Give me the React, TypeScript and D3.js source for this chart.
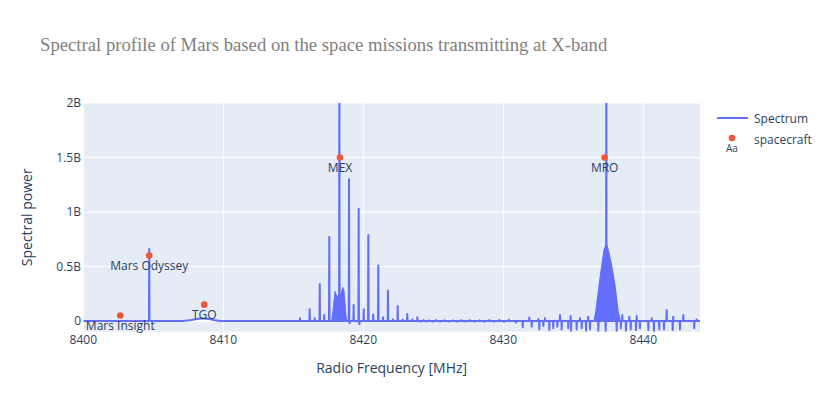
import * as d3 from 'd3';
import React, { useEffect, useRef } from 'react';

// axis ticks
const xTicks = [8400, 8410, 8420, 8430, 8440];
const yTicks = [0, 0.5, 1, 1.5, 2]; // billions
const yTickLabels = ['0', '0.5B', '1B', '1.5B', '2B'];

// spacecraft markers (power in billions)
const craftNames = ['Mars Insight', 'Mars Odyssey', 'TGO', 'MEX', 'MRO'];
const craftFreq = [8402.64, 8404.71, 8408.64, 8418.34, 8437.24];
const craftPower = [0.05, 0.6, 0.15, 1.5, 1.5];

// narrow lines of the spectrum (MHz, billions), negative = dips
const spikeFreq = [
  8404.71,
  8415.48, 8416.17, 8416.53, 8416.89, 8417.21, 8417.57, 8418.29, 8418.98, 8419.02,
  8419.31, 8419.67, 8419.72, 8420.03, 8420.36, 8420.71, 8421.07, 8421.41, 8421.76,
  8422.12, 8422.46, 8422.81, 8423.14, 8423.5, 8423.86,
  8424.1, 8424.3, 8424.5, 8424.7, 8424.95, 8425.2, 8425.5, 8425.8, 8426.1, 8426.4,
  8426.7, 8427.0, 8427.3, 8427.6, 8427.95, 8428.3, 8428.65, 8429.0, 8429.35, 8429.7,
  8430.05, 8430.4, 8430.9,
  8431.39, 8431.86, 8432.03, 8432.5, 8432.57, 8432.86, 8432.98, 8433.29, 8433.57,
  8433.86, 8434.05, 8434.17, 8434.64, 8434.81, 8434.84, 8435.24, 8435.48, 8435.6,
  8435.91, 8436.07, 8436.19, 8436.79, 8437.31, 8437.36, 8438.1, 8438.4, 8438.5,
  8438.76, 8439.0, 8439.1, 8439.48, 8439.53, 8439.76, 8440.36, 8440.6, 8440.76,
  8441.14, 8441.48, 8441.67, 8442.1, 8442.14, 8442.62, 8442.86, 8443.64, 8443.81,
];
const spikePower = [
  0.66,
  0.025, 0.107, 0.025, 0.34, 0.055, 0.77, 2.6, 1.3, -0.02,
  0.147, 1.03, -0.028, 0.107, 0.79, 0.06, 0.51, 0.034, 0.28,
  0.015, 0.137, 0.015, 0.064, 0.015, 0.034,
  -0.006, 0.008, -0.005, 0.006, -0.007, 0.008, -0.006, 0.007, -0.005, 0.006,
  -0.007, 0.008, -0.006, 0.008, -0.006, 0.007, -0.008, 0.008, -0.007, 0.009,
  -0.01, 0.012, -0.015,
  -0.058, 0.034, -0.052, 0.018, -0.077, -0.046, 0.025, -0.083, -0.067,
  -0.052, 0.055, -0.077, -0.067, 0.046, -0.089, -0.077, 0.025, -0.067,
  -0.089, 0.04, -0.077, -0.092, -0.092, 2.6, -0.092, -0.067, 0.055,
  -0.089, 0.04, -0.077, -0.083, 0.046, -0.067, -0.083, 0.025, -0.092,
  -0.077, -0.077, 0.1, -0.083, 0.04, -0.077, 0.055, -0.067, 0.015,
];

// broad TGO bump
const tgoFreq = [8407.12, 8407.6, 8408.0, 8408.46, 8409.0, 8409.4, 8409.76];
const tgoPower = [0, 0.006, 0.017, 0.025, 0.018, 0.007, 0];

// dense envelopes around MEX and MRO carriers
const mexHumpFreq = [8417.74, 8417.84, 8417.98, 8418.12, 8418.29, 8418.41, 8418.53, 8418.62, 8418.76, 8418.85];
const mexHumpPower = [0, 0.1, 0.27, 0.22, 0.25, 0.25, 0.31, 0.28, 0.05, 0];
const mroHumpFreq = [8436.5, 8436.6, 8436.84, 8437.03, 8437.19, 8437.36, 8437.51, 8437.74, 8437.98, 8438.21, 8438.34];
const mroHumpPower = [0.02, 0.085, 0.33, 0.51, 0.65, 0.71, 0.65, 0.51, 0.33, 0.085, 0.02];

const FONT = '"Open Sans", verdana, arial, sans-serif';
const TEXT = '#2a3f5f';
const LINE = '#636efa';
const MARK = '#EF553B';

export default function App() {
  const ref = useRef<SVGSVGElement>(null);

  useEffect(() => {
    const svg = d3.select(ref.current);
    svg.selectAll('*').remove();

    const left = 83.3, right = 700, top = 103, bottom = 331.7;
    const x = d3.scaleLinear().domain([8400, 8444.05]).range([left, right]);
    const y = d3.scaleLinear().domain([-0.098, 2]).range([bottom, top]);

    svg.append('rect').attr('width', 830).attr('height', 415).attr('fill', '#fff');

    svg
      .append('text')
      .attr('x', 40)
      .attr('y', 51)
      .attr('font-family', '"Times New Roman", "Liberation Serif", serif')
      .attr('font-size', 18.7)
      .attr('fill', '#7f7f7f')
      .text('Spectral profile of Mars based on the space missions transmitting at X-band');

    svg
      .append('rect')
      .attr('x', left)
      .attr('y', top)
      .attr('width', right - left)
      .attr('height', bottom - top)
      .attr('fill', '#E5ECF6');

    // grid
    const grid = svg.append('g').attr('stroke', '#fff');
    grid
      .selectAll('line.gx')
      .data(xTicks)
      .join('line')
      .attr('x1', (d) => x(d))
      .attr('x2', (d) => x(d))
      .attr('y1', top)
      .attr('y2', bottom);
    grid
      .selectAll('line.gy')
      .data(yTicks)
      .join('line')
      .attr('class', 'gy')
      .attr('x1', left)
      .attr('x2', right)
      .attr('y1', (d) => y(d))
      .attr('y2', (d) => y(d))
      .attr('stroke-width', (d) => (d === 0 ? 2 : 1));

    // tick labels
    svg
      .append('g')
      .attr('font-family', FONT)
      .attr('font-size', 12)
      .attr('fill', TEXT)
      .attr('text-anchor', 'middle')
      .selectAll('text')
      .data(xTicks)
      .join('text')
      .attr('x', (d) => x(d))
      .attr('y', 344)
      .text((d) => d);
    svg
      .append('g')
      .attr('font-family', FONT)
      .attr('font-size', 12)
      .attr('fill', TEXT)
      .attr('text-anchor', 'end')
      .selectAll('text')
      .data(yTicks)
      .join('text')
      .attr('x', 81)
      .attr('y', (d) => y(d))
      .attr('dy', '0.35em')
      .text((d, i) => yTickLabels[i]);

    // axis titles
    svg
      .append('text')
      .attr('x', (left + right) / 2)
      .attr('y', 373)
      .attr('text-anchor', 'middle')
      .attr('font-family', FONT)
      .attr('font-size', 14)
      .attr('fill', TEXT)
      .text('Radio Frequency [MHz]');
    svg
      .append('text')
      .attr('transform', `translate(32,${(top + bottom) / 2}) rotate(-90)`)
      .attr('text-anchor', 'middle')
      .attr('font-family', FONT)
      .attr('font-size', 14)
      .attr('fill', TEXT)
      .text('Spectral power');

    // clip
    svg
      .append('clipPath')
      .attr('id', 'plotclip')
      .append('rect')
      .attr('x', left)
      .attr('y', top)
      .attr('width', right - left)
      .attr('height', bottom - top);
    const plot = svg.append('g').attr('clip-path', 'url(#plotclip)');

    // spectrum humps
    const area = d3
      .area<[number, number]>()
      .x((d) => x(d[0]))
      .y0(y(0))
      .y1((d) => y(d[1]));
    plot
      .append('path')
      .datum(mexHumpFreq.map((f, i) => [f, mexHumpPower[i]] as [number, number]))
      .attr('fill', LINE)
      .attr('stroke', LINE)
      .attr('stroke-width', 1)
      .attr('d', area);
    plot
      .append('path')
      .datum(mroHumpFreq.map((f, i) => [f, mroHumpPower[i]] as [number, number]))
      .attr('fill', LINE)
      .attr('stroke', LINE)
      .attr('stroke-width', 1)
      .attr('d', area);

    // spectrum line
    const pts: [number, number][] = [
      [8400, 0],
      [8445, 0],
    ];
    tgoFreq.forEach((f, i) => pts.push([f, tgoPower[i]]));
    spikeFreq.forEach((f, i) => {
      pts.push([f - 0.02, 0], [f, spikePower[i]], [f + 0.02, 0]);
    });
    pts.sort((a, b) => a[0] - b[0]);
    const line = d3
      .line<[number, number]>()
      .x((d) => x(d[0]))
      .y((d) => y(d[1]));
    plot
      .append('path')
      .datum(pts)
      .attr('fill', 'none')
      .attr('stroke', LINE)
      .attr('stroke-width', 2)
      .attr('stroke-linejoin', 'round')
      .attr('d', line);

    // spacecraft markers + labels
    const craft = svg.append('g');
    craft
      .selectAll('circle')
      .data(craftNames)
      .join('circle')
      .attr('cx', (d, i) => x(craftFreq[i]))
      .attr('cy', (d, i) => y(craftPower[i]))
      .attr('r', 3.3)
      .attr('fill', MARK);
    craft
      .selectAll('text')
      .data(craftNames)
      .join('text')
      .attr('x', (d, i) => x(craftFreq[i]))
      .attr('y', (d, i) => y(craftPower[i]) + 14)
      .attr('text-anchor', 'middle')
      .attr('font-family', FONT)
      .attr('font-size', 12)
      .attr('fill', TEXT)
      .text((d) => d);

    // legend
    const legend = svg.append('g').attr('font-family', FONT).attr('font-size', 12).attr('fill', TEXT);
    legend
      .append('line')
      .attr('x1', 717)
      .attr('x2', 748)
      .attr('y1', 118)
      .attr('y2', 118)
      .attr('stroke', LINE)
      .attr('stroke-width', 2);
    legend.append('text').attr('x', 754).attr('y', 122.5).text('Spectrum');
    legend.append('circle').attr('cx', 732).attr('cy', 138).attr('r', 3.3).attr('fill', MARK);
    legend
      .append('text')
      .attr('x', 732)
      .attr('y', 152)
      .attr('text-anchor', 'middle')
      .attr('font-size', 10)
      .text('Aa');
    legend.append('text').attr('x', 754).attr('y', 143.5).text('spacecraft');
  }, []);

  return (
    <svg
      ref={ref}
      width={830}
      height={415}
      style={{ position: 'absolute', left: 0, top: 0, display: 'block' }}
    ></svg>
  );
}
